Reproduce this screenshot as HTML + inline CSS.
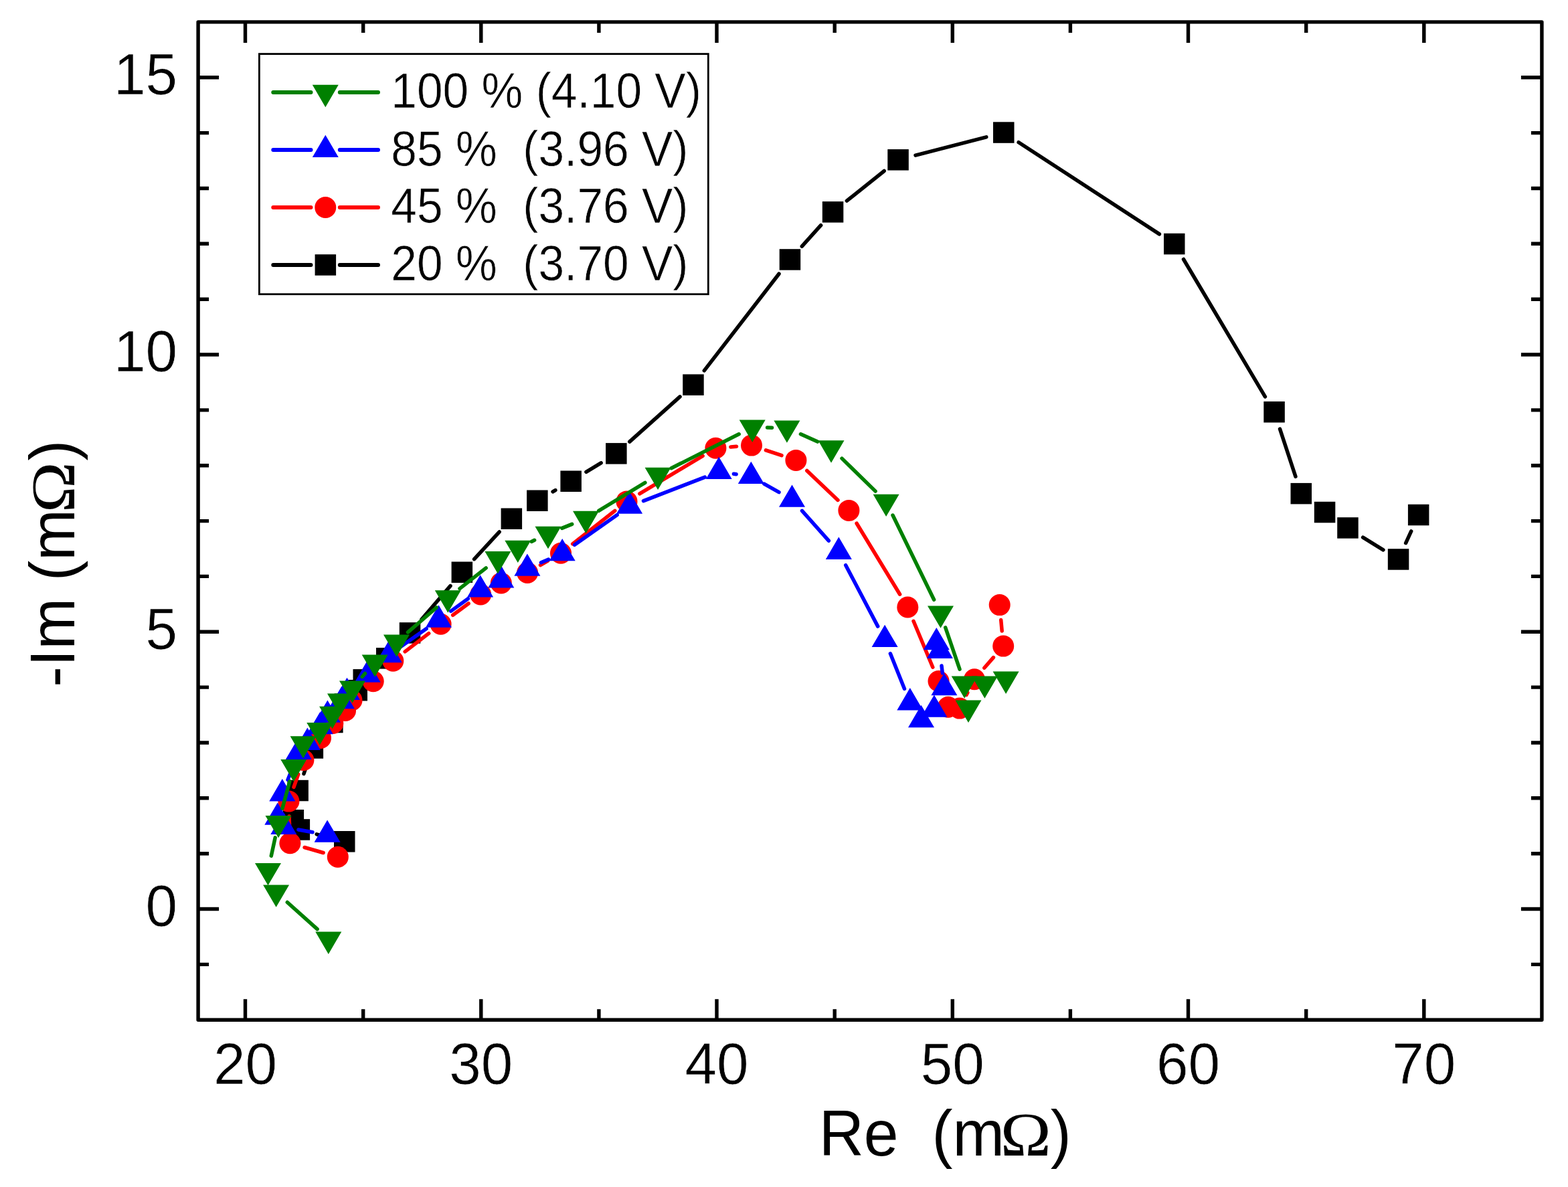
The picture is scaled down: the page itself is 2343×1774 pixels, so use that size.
<!DOCTYPE html>
<html><head><meta charset="utf-8"><title>Nyquist plot</title>
<style>html,body{margin:0;padding:0;background:#fff;overflow:hidden;}svg{display:block;}</style>
</head><body>
<svg width="2343" height="1774" viewBox="0 0 2343 1774">
<rect x="296.1" y="32.9" width="2007.8" height="1491.3" fill="none" stroke="#000" stroke-width="5.4" stroke-linejoin="round"/>
<path d="M366.5 1524.2V1493.2M366.5 32.9V63.9M542.7 1524.2V1508.2M542.7 32.9V48.9M718.8 1524.2V1493.2M718.8 32.9V63.9M894.9 1524.2V1508.2M894.9 32.9V48.9M1071 1524.2V1493.2M1071 32.9V63.9M1247.2 1524.2V1508.2M1247.2 32.9V48.9M1423.3 1524.2V1493.2M1423.3 32.9V63.9M1599.4 1524.2V1508.2M1599.4 32.9V48.9M1775.5 1524.2V1493.2M1775.5 32.9V63.9M1951.7 1524.2V1508.2M1951.7 32.9V48.9M2127.8 1524.2V1493.2M2127.8 32.9V63.9M296.1 1441.4H312.1M2303.9 1441.4H2287.9M296.1 1358.5H327.1M2303.9 1358.5H2272.9M296.1 1275.7H312.1M2303.9 1275.7H2287.9M296.1 1192.8H312.1M2303.9 1192.8H2287.9M296.1 1110H312.1M2303.9 1110H2287.9M296.1 1027.1H312.1M2303.9 1027.1H2287.9M296.1 944.2H327.1M2303.9 944.2H2272.9M296.1 861.4H312.1M2303.9 861.4H2287.9M296.1 778.6H312.1M2303.9 778.6H2287.9M296.1 695.7H312.1M2303.9 695.7H2287.9M296.1 612.9H312.1M2303.9 612.9H2287.9M296.1 530H327.1M2303.9 530H2272.9M296.1 447.2H312.1M2303.9 447.2H2287.9M296.1 364.3H312.1M2303.9 364.3H2287.9M296.1 281.5H312.1M2303.9 281.5H2287.9M296.1 198.6H312.1M2303.9 198.6H2287.9M296.1 115.8H327.1M2303.9 115.8H2272.9" stroke="#000" stroke-width="5.4" fill="none"/>
<text transform="translate(366.5,1620.2) scale(1.0,1.015)" font-family="'Liberation Sans', Arial, sans-serif" font-size="85.5" text-anchor="middle" xml:space="preserve" stroke="#fff" stroke-width="0.6">20</text>
<text transform="translate(718.8,1620.2) scale(1.0,1.015)" font-family="'Liberation Sans', Arial, sans-serif" font-size="85.5" text-anchor="middle" xml:space="preserve" stroke="#fff" stroke-width="0.6">30</text>
<text transform="translate(1071,1620.2) scale(1.0,1.015)" font-family="'Liberation Sans', Arial, sans-serif" font-size="85.5" text-anchor="middle" xml:space="preserve" stroke="#fff" stroke-width="0.6">40</text>
<text transform="translate(1423.3,1620.2) scale(1.0,1.015)" font-family="'Liberation Sans', Arial, sans-serif" font-size="85.5" text-anchor="middle" xml:space="preserve" stroke="#fff" stroke-width="0.6">50</text>
<text transform="translate(1775.5,1620.2) scale(1.0,1.015)" font-family="'Liberation Sans', Arial, sans-serif" font-size="85.5" text-anchor="middle" xml:space="preserve" stroke="#fff" stroke-width="0.6">60</text>
<text transform="translate(2127.8,1620.2) scale(1.0,1.015)" font-family="'Liberation Sans', Arial, sans-serif" font-size="85.5" text-anchor="middle" xml:space="preserve" stroke="#fff" stroke-width="0.6">70</text>
<text transform="translate(265,1383.8) scale(1.0,1.015)" font-family="'Liberation Sans', Arial, sans-serif" font-size="85.5" text-anchor="end" xml:space="preserve" stroke="#fff" stroke-width="0.6">0</text>
<text transform="translate(265,969.5) scale(1.0,1.015)" font-family="'Liberation Sans', Arial, sans-serif" font-size="85.5" text-anchor="end" xml:space="preserve" stroke="#fff" stroke-width="0.6">5</text>
<text transform="translate(265,555.3) scale(1.0,1.015)" font-family="'Liberation Sans', Arial, sans-serif" font-size="85.5" text-anchor="end" xml:space="preserve" stroke="#fff" stroke-width="0.6">10</text>
<text transform="translate(265,141.1) scale(1.0,1.015)" font-family="'Liberation Sans', Arial, sans-serif" font-size="85.5" text-anchor="end" xml:space="preserve" stroke="#fff" stroke-width="0.6">15</text>
<text transform="translate(1223.7,1727.3) scale(1.0,1.04)" font-family="'Liberation Sans', Arial, sans-serif" font-size="93" xml:space="preserve">Re</text>
<text transform="translate(1392.6,1727.3) scale(1.0,1.04)" font-family="'Liberation Sans', Arial, sans-serif" font-size="93" xml:space="preserve">(m</text>
<text transform="translate(1494.7,1727.3) scale(1.1,1.0)" font-family="'Liberation Serif', 'Times New Roman', serif" font-size="93" xml:space="preserve">Ω</text>
<text transform="translate(1569.7,1727.3) scale(1.0,1.04)" font-family="'Liberation Sans', Arial, sans-serif" font-size="93" xml:space="preserve">)</text>
<text transform="translate(110.5,0) rotate(-90) translate(-1026.7,0) scale(1.0,1.03)" font-family="'Liberation Sans', Arial, sans-serif" font-size="92" xml:space="preserve">-Im (m</text>
<text transform="translate(110.5,0) rotate(-90) translate(-766.2,0) scale(1.1,1.0)" font-family="'Liberation Serif', 'Times New Roman', serif" font-size="93" xml:space="preserve">Ω</text>
<text transform="translate(110.5,0) rotate(-90) translate(-688.4,0) scale(1.0,1.03)" font-family="'Liberation Sans', Arial, sans-serif" font-size="92" xml:space="preserve">)</text>
<path d="M488.8 1250.9L473.2 1246.8M454 1156.3L458.5 1143.1M629.9 925.7L673 875.6M708.6 835.7L746.2 794.9M826.1 734.9L829.9 732.6M875.9 705.4L898.1 691.8M940.8 660.1L1016 592.9M1052.3 553.9L1164 409.2M1198.3 368.1L1226.6 336.7M1265.4 300.1L1321.2 255.5M1368 232.1L1473.8 204.8M1522.1 212.7L1732.4 349.9M1768.5 387.5L1890.4 592.8M1912.5 641.2L1935.9 712.2M2036.6 803.1L2066.9 821.9M2100.6 811.6L2108.7 793.9" stroke="#000000" stroke-width="5.5" stroke-linecap="round" fill="none"/>
<rect x="499" y="1242" width="31.5" height="31.5" fill="#000000"/>
<rect x="431.6" y="1224.2" width="31.5" height="31.5" fill="#000000"/>
<rect x="422.6" y="1210" width="31.5" height="31.5" fill="#000000"/>
<rect x="429.4" y="1165.8" width="31.5" height="31.5" fill="#000000"/>
<rect x="451.6" y="1102.2" width="31.5" height="31.5" fill="#000000"/>
<rect x="481.1" y="1063.8" width="31.5" height="31.5" fill="#000000"/>
<rect x="499.6" y="1036.5" width="31.5" height="31.5" fill="#000000"/>
<rect x="517.5" y="1016" width="31.5" height="31.5" fill="#000000"/>
<rect x="527.5" y="1000.1" width="31.5" height="31.5" fill="#000000"/>
<rect x="562" y="968.1" width="31.5" height="31.5" fill="#000000"/>
<rect x="596.8" y="930.2" width="31.5" height="31.5" fill="#000000"/>
<rect x="674.6" y="839.5" width="31.5" height="31.5" fill="#000000"/>
<rect x="748.6" y="759.5" width="31.5" height="31.5" fill="#000000"/>
<rect x="787.1" y="732.5" width="31.5" height="31.5" fill="#000000"/>
<rect x="837.4" y="703.5" width="31.5" height="31.5" fill="#000000"/>
<rect x="905.1" y="662.1" width="31.5" height="31.5" fill="#000000"/>
<rect x="1020.2" y="559.4" width="31.5" height="31.5" fill="#000000"/>
<rect x="1164.7" y="372.2" width="31.5" height="31.5" fill="#000000"/>
<rect x="1228.8" y="301.1" width="31.5" height="31.5" fill="#000000"/>
<rect x="1326.3" y="223.1" width="31.5" height="31.5" fill="#000000"/>
<rect x="1484" y="182.3" width="31.5" height="31.5" fill="#000000"/>
<rect x="1739" y="348.8" width="31.5" height="31.5" fill="#000000"/>
<rect x="1888.3" y="600" width="31.5" height="31.5" fill="#000000"/>
<rect x="1928.5" y="721.9" width="31.5" height="31.5" fill="#000000"/>
<rect x="1963.8" y="749.8" width="31.5" height="31.5" fill="#000000"/>
<rect x="1998.2" y="773.2" width="31.5" height="31.5" fill="#000000"/>
<rect x="2073.8" y="820.2" width="31.5" height="31.5" fill="#000000"/>
<rect x="2103.9" y="753.8" width="31.5" height="31.5" fill="#000000"/>
<path d="M483.1 1274.5L455.1 1266.5M432.7 1237.8L432.1 1220.1M439 1176.4L445.8 1157.2M605.2 973.9L640.7 946.6M676.7 919.3L700.1 902M807.5 844.6L818.6 838.1M855.7 812.8L918.8 763.3M955.8 737.8L1050.1 681.3M1091.9 668L1100.5 667.3M1144.4 672.8L1168 680.7M1205.8 703.4L1252 747.4M1280.1 782.2L1344.6 888.2M1365 928.3L1393.8 997.2M1444.1 1038.5L1445.8 1035.3M1470.8 998.2L1484.4 982.6M1497.2 943.1L1495.7 926.6" stroke="#ff0000" stroke-width="5.5" stroke-linecap="round" fill="none"/>
<circle cx="504.8" cy="1280.7" r="16.0" fill="#ff0000"/>
<circle cx="433.4" cy="1260.3" r="16.0" fill="#ff0000"/>
<circle cx="431.4" cy="1197.6" r="16.0" fill="#ff0000"/>
<circle cx="453.4" cy="1136" r="16.0" fill="#ff0000"/>
<circle cx="479" cy="1103" r="16.0" fill="#ff0000"/>
<circle cx="497.3" cy="1081" r="16.0" fill="#ff0000"/>
<circle cx="516" cy="1062" r="16.0" fill="#ff0000"/>
<circle cx="525.5" cy="1046.5" r="16.0" fill="#ff0000"/>
<circle cx="557.7" cy="1018.2" r="16.0" fill="#ff0000"/>
<circle cx="587.3" cy="987.7" r="16.0" fill="#ff0000"/>
<circle cx="658.6" cy="932.8" r="16.0" fill="#ff0000"/>
<circle cx="718.2" cy="888.5" r="16.0" fill="#ff0000"/>
<circle cx="748.8" cy="871.4" r="16.0" fill="#ff0000"/>
<circle cx="788.1" cy="856" r="16.0" fill="#ff0000"/>
<circle cx="838" cy="826.7" r="16.0" fill="#ff0000"/>
<circle cx="936.5" cy="749.4" r="16.0" fill="#ff0000"/>
<circle cx="1069.4" cy="669.7" r="16.0" fill="#ff0000"/>
<circle cx="1123" cy="665.6" r="16.0" fill="#ff0000"/>
<circle cx="1189.4" cy="687.9" r="16.0" fill="#ff0000"/>
<circle cx="1268.4" cy="762.9" r="16.0" fill="#ff0000"/>
<circle cx="1356.3" cy="907.5" r="16.0" fill="#ff0000"/>
<circle cx="1402.5" cy="1018" r="16.0" fill="#ff0000"/>
<circle cx="1416.8" cy="1056.8" r="16.0" fill="#ff0000"/>
<circle cx="1433.9" cy="1058.6" r="16.0" fill="#ff0000"/>
<circle cx="1456" cy="1015.2" r="16.0" fill="#ff0000"/>
<circle cx="1499.2" cy="965.6" r="16.0" fill="#ff0000"/>
<circle cx="1493.7" cy="904.1" r="16.0" fill="#ff0000"/>
<path d="M467 1243.7L445.9 1240M430 1165.5L438.1 1144.9M599.6 966.1L637.2 939.6M673.7 913.4L699.4 894.7M808.5 840.8L819.6 836.1M858.6 814.3L922.2 769.6M961.5 748.6L1053.3 713.1M1096.4 708.2L1100.1 708.8M1141.8 723.1L1164 735.6M1198.5 763.4L1238.3 808.1M1263.7 844.7L1311.7 936.1M1330.4 976.8L1351.5 1029.5M1408.3 1005.9L1407 995.1" stroke="#0000ff" stroke-width="5.5" stroke-linecap="round" fill="none"/>
<polygon points="489.1,1225.4 508.6,1258.8 469.6,1258.8" fill="#0000ff"/>
<polygon points="423.8,1213.7 443.3,1247.1 404.3,1247.1" fill="#0000ff"/>
<polygon points="414.8,1199.4 434.3,1232.8 395.3,1232.8" fill="#0000ff"/>
<polygon points="421.8,1164.1 441.3,1197.5 402.3,1197.5" fill="#0000ff"/>
<polygon points="446.3,1101.7 465.8,1135.1 426.8,1135.1" fill="#0000ff"/>
<polygon points="459.4,1087.6 478.9,1121 439.9,1121" fill="#0000ff"/>
<polygon points="478.2,1063.9 497.7,1097.3 458.7,1097.3" fill="#0000ff"/>
<polygon points="489.4,1046.4 508.9,1079.8 469.9,1079.8" fill="#0000ff"/>
<polygon points="510.4,1025.8 529.9,1059.2 490.9,1059.2" fill="#0000ff"/>
<polygon points="518.5,1012.7 538,1046.1 499,1046.1" fill="#0000ff"/>
<polygon points="549.3,986.4 568.8,1019.8 529.8,1019.8" fill="#0000ff"/>
<polygon points="581.3,956.8 600.8,990.2 561.8,990.2" fill="#0000ff"/>
<polygon points="655.5,904.3 675,937.7 636,937.7" fill="#0000ff"/>
<polygon points="717.6,859.2 737.1,892.6 698.1,892.6" fill="#0000ff"/>
<polygon points="748.8,845.1 768.3,878.5 729.3,878.5" fill="#0000ff"/>
<polygon points="787.9,827.4 807.4,860.8 768.4,860.8" fill="#0000ff"/>
<polygon points="840.2,804.9 859.7,838.3 820.7,838.3" fill="#0000ff"/>
<polygon points="940.6,734.4 960.1,767.8 921.1,767.8" fill="#0000ff"/>
<polygon points="1074.2,682.7 1093.7,716.1 1054.7,716.1" fill="#0000ff"/>
<polygon points="1122.3,689.7 1141.8,723.1 1102.8,723.1" fill="#0000ff"/>
<polygon points="1183.5,724.4 1203,757.8 1164,757.8" fill="#0000ff"/>
<polygon points="1253.3,802.5 1272.8,835.9 1233.8,835.9" fill="#0000ff"/>
<polygon points="1322.1,933.7 1341.6,967.1 1302.6,967.1" fill="#0000ff"/>
<polygon points="1359.8,1028 1379.3,1061.4 1340.3,1061.4" fill="#0000ff"/>
<polygon points="1376.5,1053.8 1396,1087.2 1357,1087.2" fill="#0000ff"/>
<polygon points="1395.9,1038.4 1415.4,1071.8 1376.4,1071.8" fill="#0000ff"/>
<polygon points="1410.9,1005.9 1430.4,1039.3 1391.4,1039.3" fill="#0000ff"/>
<polygon points="1404.4,950.5 1423.9,983.9 1384.9,983.9" fill="#0000ff"/>
<polygon points="1399.3,937.9 1418.8,971.3 1379.8,971.3" fill="#0000ff"/>
<path d="M474.1 1388.6L429.3 1348.5M405.3 1279.1L411.2 1251.9M421.9 1208.3L432.9 1167.7M541.2 1011.5L545.5 1006.5M609.5 944.9L652.3 908M687 879.6L726.2 848.9M794.2 809.4L798.6 807.3M839.8 789.4L854.7 783.4M894.7 763.3L963.9 721.4M1003.1 699.7L1104.2 648.8M1146.6 639L1153.5 639.2M1196.4 648.8L1221.5 660.1M1258 685.1L1308.1 734.1M1334 770L1395.6 896.3M1412.7 937.8L1434 1000.2" stroke="#008000" stroke-width="5.5" stroke-linecap="round" fill="none"/>
<polygon points="490.8,1425.9 471.3,1392.5 510.3,1392.5" fill="#008000"/>
<polygon points="412.6,1355.8 393.1,1322.4 432.1,1322.4" fill="#008000"/>
<polygon points="400.5,1323.3 381,1289.9 420,1289.9" fill="#008000"/>
<polygon points="416,1252.3 396.5,1218.9 435.5,1218.9" fill="#008000"/>
<polygon points="438.8,1168.3 419.3,1134.9 458.3,1134.9" fill="#008000"/>
<polygon points="453.1,1133.6 433.6,1100.2 472.6,1100.2" fill="#008000"/>
<polygon points="477.8,1113.4 458.3,1080 497.3,1080" fill="#008000"/>
<polygon points="496.6,1089.2 477.1,1055.8 516.1,1055.8" fill="#008000"/>
<polygon points="508.5,1069.8 489,1036.4 528,1036.4" fill="#008000"/>
<polygon points="526.5,1050.8 507,1017.4 546,1017.4" fill="#008000"/>
<polygon points="560.2,1011.8 540.7,978.4 579.7,978.4" fill="#008000"/>
<polygon points="592.5,981.8 573,948.4 612,948.4" fill="#008000"/>
<polygon points="669.3,915.7 649.8,882.3 688.8,882.3" fill="#008000"/>
<polygon points="743.9,857.4 724.4,824 763.4,824" fill="#008000"/>
<polygon points="773.8,841.1 754.3,807.7 793.3,807.7" fill="#008000"/>
<polygon points="819,820.2 799.5,786.8 838.5,786.8" fill="#008000"/>
<polygon points="875.5,797.2 856,763.8 895,763.8" fill="#008000"/>
<polygon points="983.1,732.1 963.6,698.7 1002.6,698.7" fill="#008000"/>
<polygon points="1124.2,661 1104.7,627.6 1143.7,627.6" fill="#008000"/>
<polygon points="1175.9,661.8 1156.4,628.4 1195.4,628.4" fill="#008000"/>
<polygon points="1242,691.7 1222.5,658.3 1261.5,658.3" fill="#008000"/>
<polygon points="1324.1,772.1 1304.6,738.7 1343.6,738.7" fill="#008000"/>
<polygon points="1405.5,938.8 1386,905.4 1425,905.4" fill="#008000"/>
<polygon points="1441.2,1043.8 1421.7,1010.4 1460.7,1010.4" fill="#008000"/>
<polygon points="1447,1079.9 1427.5,1046.5 1466.5,1046.5" fill="#008000"/>
<polygon points="1471.4,1043.8 1451.9,1010.4 1490.9,1010.4" fill="#008000"/>
<polygon points="1503.1,1037 1483.6,1003.6 1522.6,1003.6" fill="#008000"/>
<rect x="387.4" y="80.6" width="670.9" height="359.1" fill="#fff" stroke="#000" stroke-width="2.8"/>
<path d="M408.3 137.9H464.5 M507.8 137.9H565" stroke="#008000" stroke-width="6.0" stroke-linecap="round"/>
<polygon points="486.3,160.2 466.8,126.8 505.8,126.8" fill="#008000"/>
<text transform="translate(584.3,161.3) scale(1.0,1.057)" font-family="'Liberation Sans', Arial, sans-serif" font-size="69.5" xml:space="preserve" stroke="#fff" stroke-width="0.6">100 % (4.10 V)</text>
<path d="M408.3 224H464.5 M507.8 224H565" stroke="#0000ff" stroke-width="6.0" stroke-linecap="round"/>
<polygon points="486.3,201.7 505.8,235.1 466.8,235.1" fill="#0000ff"/>
<text transform="translate(584.3,248.2) scale(1.0,1.057)" font-family="'Liberation Sans', Arial, sans-serif" font-size="69.5" xml:space="preserve" stroke="#fff" stroke-width="0.6">85 %  (3.96 V)</text>
<path d="M408.3 310H464.5 M507.8 310H565" stroke="#ff0000" stroke-width="6.0" stroke-linecap="round"/>
<circle cx="486.3" cy="310" r="16.0" fill="#ff0000"/>
<text transform="translate(584.3,333.2) scale(1.0,1.057)" font-family="'Liberation Sans', Arial, sans-serif" font-size="69.5" xml:space="preserve" stroke="#fff" stroke-width="0.6">45 %  (3.76 V)</text>
<path d="M408.3 396H464.5 M507.8 396H565" stroke="#000000" stroke-width="6.0" stroke-linecap="round"/>
<rect x="470.6" y="380.2" width="31.5" height="31.5" fill="#000000"/>
<text transform="translate(584.3,419.4) scale(1.0,1.057)" font-family="'Liberation Sans', Arial, sans-serif" font-size="69.5" xml:space="preserve" stroke="#fff" stroke-width="0.6">20 %  (3.70 V)</text>
</svg>
</body></html>
